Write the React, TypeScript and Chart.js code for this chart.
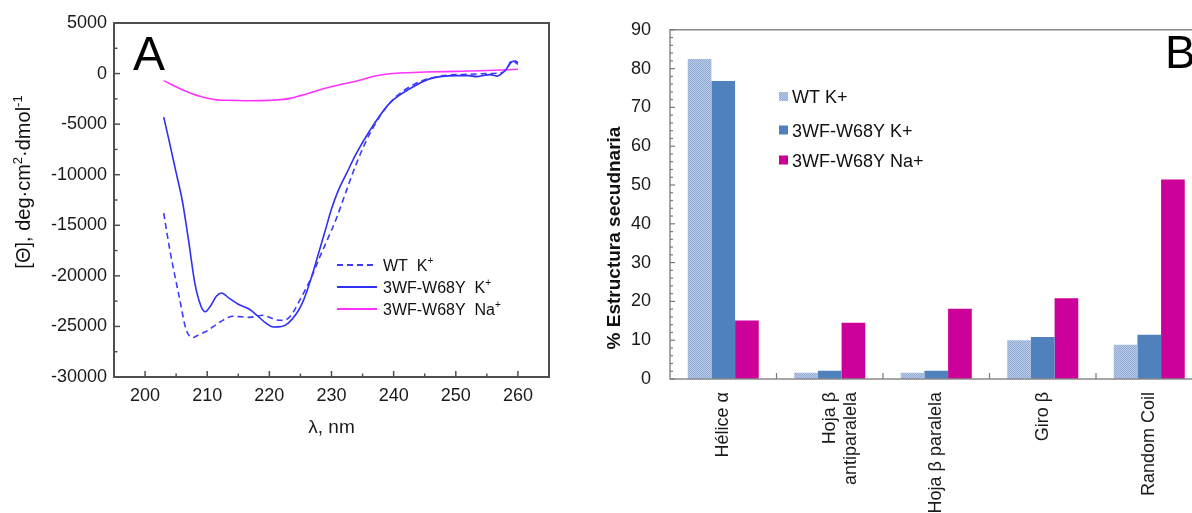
import React, { useEffect, useRef } from "react";
import { Chart, registerables } from "chart.js";

Chart.register(...registerables);

const FONT = '"Liberation Sans", Arial, Helvetica, sans-serif';

// ---------------- Panel A data (CD spectra) ----------------
const wtLambda = [203, 204, 204.7, 205.5, 206.6, 207.7, 208.7, 209.8, 211, 212.5, 214.1, 215.5, 216.8, 219, 220, 221.1, 222.2, 223.3, 224.9, 226.8, 228, 229.5, 230.8, 232.5, 234, 236.2, 239.4, 243.2, 248, 252.3, 255, 257, 258, 259, 259.6, 260];
const wtTheta = [-13800, -17500, -19700, -22100, -25300, -26100, -25800, -25500, -25000, -24400, -24000, -24050, -24100, -23900, -24100, -24350, -24400, -24050, -22400, -20100, -18300, -16200, -14300, -11400, -8900, -5900, -2900, -1100, -200, -70, 0, 50, 300, 1250, 1100, 900];

const mutKLambda = [203, 204, 205, 206, 207, 208, 209, 209.7, 210.5, 211.5, 212.3, 213.5, 215, 216.8, 218, 219.5, 220.6, 222, 223, 224.4, 225.3, 226, 227, 228, 229, 230, 231, 232.4, 234, 236.2, 239.4, 242.6, 245.9, 250.2, 252, 253.4, 255.5, 256.6, 258, 259, 259.6, 260];
const mutKTheta = [-4300, -7000, -9800, -12600, -16500, -20700, -23000, -23550, -23000, -22000, -21700, -22200, -22800, -23300, -23900, -24700, -25050, -25000, -24700, -23700, -22700, -21600, -19700, -17600, -15500, -13400, -11700, -9900, -7900, -5600, -2900, -1500, -500, -200, -200, -300, -100, -250, 350, 1150, 1250, 1050];

const mutNaLambda = [203, 206, 208.8, 211.5, 214, 216.8, 220, 222, 223.5, 225, 227, 229, 231, 233, 235, 237, 239, 241, 245, 250, 255, 260];
const mutNaTheta = [-700, -1600, -2250, -2600, -2650, -2680, -2650, -2580, -2430, -2180, -1820, -1460, -1150, -880, -580, -240, -40, 60, 150, 220, 300, 420];

const seriesNamesA = ["WT  K", "3WF-W68Y  K", "3WF-W68Y  Na"];
const aXTicks = [200, 210, 220, 230, 240, 250, 260];
const aYTicks = [5000, 0, -5000, -10000, -15000, -20000, -25000, -30000];

// ---------------- Panel B data (secondary structure) ----------------
const bCategories: (string | string[])[] = ["Hélice α", ["Hoja β", "antiparalela"], "Hoja β paralela", "Giro β", "Random Coil"];
const wtKValues = [82.5, 1.6, 1.6, 10.0, 8.8];
const mutKValues = [76.8, 2.1, 2.1, 10.8, 11.4];
const mutNaValues = [15.1, 14.5, 18.1, 20.8, 51.4];
const seriesNamesB = ["WT K+", "3WF-W68Y K+", "3WF-W68Y Na+"];
const bYTicks = [0, 10, 20, 30, 40, 50, 60, 70, 80, 90];

// ---------------- helpers ----------------
type Part = { t: string; sup?: boolean };

function drawParts(ctx: CanvasRenderingContext2D, parts: Part[], x: number, y: number, size: number, align: "left" | "center", weight = "normal", color = "#111") {
  const supSize = Math.round(size * 0.65);
  const widths = parts.map((p) => {
    ctx.font = `${weight} ${p.sup ? supSize : size}px ${FONT}`;
    return ctx.measureText(p.t).width;
  });
  const total = widths.reduce((a, b) => a + b, 0);
  let cx = align === "center" ? x - total / 2 : x;
  ctx.textAlign = "left";
  ctx.textBaseline = "alphabetic";
  ctx.fillStyle = color;
  parts.forEach((p, i) => {
    ctx.font = `${weight} ${p.sup ? supSize : size}px ${FONT}`;
    ctx.fillText(p.t, cx, p.sup ? y - size * 0.42 : y);
    cx += widths[i];
  });
}

function line(ctx: CanvasRenderingContext2D, x1: number, y1: number, x2: number, y2: number) {
  ctx.beginPath();
  ctx.moveTo(x1, y1);
  ctx.lineTo(x2, y2);
  ctx.stroke();
}

function midpoints(arr: number[]) {
  const out: number[] = [];
  for (let i = 0; i < arr.length - 1; i++) out.push((arr[i] + arr[i + 1]) / 2);
  return out;
}

function makeDotPattern(): CanvasPattern | string {
  const c = document.createElement("canvas");
  c.width = 2;
  c.height = 2;
  const g = c.getContext("2d");
  if (!g) return "#a6bee0";
  g.fillStyle = "#b8cce9";
  g.fillRect(0, 0, 2, 2);
  g.fillStyle = "#93acd6";
  g.fillRect(0, 0, 1, 1);
  g.fillRect(1, 1, 1, 1);
  const p = g.createPattern(c, "repeat");
  return p || "#a6bee0";
}

const toXY = (xs: number[], ys: number[]) => xs.map((x, i) => ({ x, y: ys[i] }));

// ---------------- Panel A ----------------
const A_W = 570;
const A_H = 513;

const aDecor = {
  id: "aDecor",
  afterDraw(chart: any) {
    const { ctx, chartArea: ca, scales } = chart;
    const x = scales.x;
    const y = scales.y;
    ctx.save();
    // frame
    ctx.strokeStyle = "#505050";
    ctx.lineWidth = 2;
    ctx.setLineDash([]);
    ctx.strokeRect(ca.left, ca.top, ca.right - ca.left, ca.bottom - ca.top);
    // inward ticks
    ctx.lineWidth = 1.5;
    aXTicks.forEach((v) => line(ctx, x.getPixelForValue(v), ca.bottom, x.getPixelForValue(v), ca.bottom - 6));
    midpoints(aXTicks).forEach((v) => line(ctx, x.getPixelForValue(v), ca.bottom, x.getPixelForValue(v), ca.bottom - 3.5));
    aYTicks.forEach((v) => line(ctx, ca.left, y.getPixelForValue(v), ca.left + 6, y.getPixelForValue(v)));
    midpoints(aYTicks).forEach((v) => line(ctx, ca.left, y.getPixelForValue(v), ca.left + 3.5, y.getPixelForValue(v)));

    // panel letter
    ctx.fillStyle = "#000";
    ctx.font = `48px ${FONT}`;
    ctx.textAlign = "left";
    ctx.textBaseline = "alphabetic";
    ctx.fillText("A", 133, 70);

    // y title
    ctx.save();
    ctx.translate(23, 182);
    ctx.rotate(-Math.PI / 2);
    drawParts(ctx, [{ t: "[Θ], deg·cm" }, { t: "2", sup: true }, { t: "·dmol" }, { t: "-1", sup: true }], 0, 7, 20, "center");
    ctx.restore();

    // legend
    const ds = chart.data.datasets;
    const rows = [265, 287, 309];
    ds.forEach((d: any, i: number) => {
      ctx.strokeStyle = d.borderColor;
      ctx.lineWidth = 1.8;
      ctx.setLineDash(d.borderDash || []);
      line(ctx, 337, rows[i], 377, rows[i]);
      ctx.setLineDash([]);
      drawParts(ctx, [{ t: seriesNamesA[i] }, { t: "+", sup: true }], 383, rows[i] + 6, 16, "left");
    });
    ctx.restore();
  },
};

function PanelA() {
  const ref = useRef<HTMLCanvasElement>(null);
  useEffect(() => {
    if (!ref.current) return;
    const tickFont = { family: FONT, size: 18 };
    const chart = new Chart(ref.current, {
      type: "line",
      data: {
        datasets: [
          { label: "WT K+", data: toXY(wtLambda, wtTheta), borderColor: "#3b3bff", borderWidth: 1.6, borderDash: [6, 4], pointRadius: 0, cubicInterpolationMode: "monotone", fill: false },
          { label: "3WF-W68Y K+", data: toXY(mutKLambda, mutKTheta), borderColor: "#3030f5", borderWidth: 1.6, pointRadius: 0, cubicInterpolationMode: "monotone", fill: false },
          { label: "3WF-W68Y Na+", data: toXY(mutNaLambda, mutNaTheta), borderColor: "#ff33ff", borderWidth: 1.6, pointRadius: 0, cubicInterpolationMode: "monotone", fill: false },
        ],
      },
      options: {
        animation: false,
        responsive: false,
        maintainAspectRatio: false,
        layout: { padding: { left: 0, top: 23, right: A_W - 549, bottom: 0 } },
        plugins: { legend: { display: false }, tooltip: { enabled: false } },
        scales: {
          x: {
            type: "linear",
            min: 195,
            max: 265,
            afterBuildTicks: (s: any) => {
              s.ticks = aXTicks.map((v) => ({ value: v }));
            },
            afterFit: (s: any) => {
              s.height = A_H - 377;
            },
            grid: { display: false, drawTicks: false },
            border: { display: false },
            ticks: { padding: 8, font: tickFont, color: "#1a1a1a", maxRotation: 0, callback: (v: any) => String(v) },
            title: { display: true, text: "λ, nm", font: { family: FONT, size: 19 }, color: "#1a1a1a", padding: { top: 0, bottom: 74 } },
          },
          y: {
            type: "linear",
            min: -30000,
            max: 5000,
            afterBuildTicks: (s: any) => {
              s.ticks = aYTicks.map((v) => ({ value: v }));
            },
            afterFit: (s: any) => {
              s.width = 114;
            },
            grid: { display: false, drawTicks: false },
            border: { display: false },
            ticks: { padding: 7, font: tickFont, color: "#1a1a1a", callback: (v: any) => String(v) },
          },
        },
      },
      plugins: [aDecor],
    } as any);
    return () => chart.destroy();
  }, []);
  return <canvas ref={ref} width={A_W} height={A_H} style={{ position: "absolute", left: 0, top: 0, width: A_W, height: A_H }} />;
}

// ---------------- Panel B ----------------
const B_LEFT = 560;
const B_W = 680;
const B_H = 513;

const bDecor = {
  id: "bDecor",
  afterDraw(chart: any) {
    const { ctx, chartArea: ca, scales } = chart;
    const x = scales.x;
    const y = scales.y;
    ctx.save();
    ctx.strokeStyle = "#8a8a8a";
    ctx.lineWidth = 1.5;
    ctx.strokeRect(ca.left, ca.top, ca.right - ca.left, ca.bottom - ca.top);
    // inward ticks
    ctx.strokeStyle = "#7a7a7a";
    ctx.lineWidth = 1.2;
    bYTicks.forEach((v) => line(ctx, ca.left, y.getPixelForValue(v), ca.left + 5, y.getPixelForValue(v)));
    const minor: number[] = [];
    midpoints(bYTicks).forEach((m) => {
      minor.push(m - 3, m - 1, m + 1, m + 3);
    });
    minor.forEach((v) => line(ctx, ca.left, y.getPixelForValue(v), ca.left + 3, y.getPixelForValue(v)));
    const half = (x.getPixelForValue(1) - x.getPixelForValue(0)) / 2;
    bCategories.forEach((_, i) => {
      if (i === 0) return;
      const px = x.getPixelForValue(i) - half;
      line(ctx, px, ca.bottom, px, ca.bottom - 6);
    });

    // panel letter
    ctx.fillStyle = "#000";
    ctx.font = `46px ${FONT}`;
    ctx.textAlign = "left";
    ctx.textBaseline = "alphabetic";
    ctx.fillText("B", 1165 - B_LEFT, 68);

    // y title
    ctx.save();
    ctx.translate(613 - B_LEFT, 238);
    ctx.rotate(-Math.PI / 2);
    drawParts(ctx, [{ t: "% Estructura secudnaria" }], 0, 7, 19, "center", "bold");
    ctx.restore();

    // legend
    const rows = [96.5, 130, 160];
    chart.data.datasets.forEach((d: any, i: number) => {
      ctx.fillStyle = d.backgroundColor;
      ctx.fillRect(779 - B_LEFT, rows[i] - 4.5, 9, 9);
      drawParts(ctx, [{ t: seriesNamesB[i] }], 792 - B_LEFT, rows[i] + 6.5, 18, "left");
    });
    ctx.restore();
  },
};

function PanelB() {
  const ref = useRef<HTMLCanvasElement>(null);
  useEffect(() => {
    if (!ref.current) return;
    const chart = new Chart(ref.current, {
      type: "bar",
      data: {
        labels: bCategories,
        datasets: [
          { label: seriesNamesB[0], data: wtKValues, backgroundColor: makeDotPattern(), borderWidth: 0 },
          { label: seriesNamesB[1], data: mutKValues, backgroundColor: "#4f81bd", borderWidth: 0 },
          { label: seriesNamesB[2], data: mutNaValues, backgroundColor: "#cc0099", borderWidth: 0 },
        ],
      },
      options: {
        animation: false,
        responsive: false,
        maintainAspectRatio: false,
        layout: { padding: { left: 0, top: 23, right: B_W - (1202.5 - B_LEFT), bottom: 0 } },
        plugins: { legend: { display: false }, tooltip: { enabled: false } },
        datasets: { bar: { categoryPercentage: 0.667, barPercentage: 1.0 } },
        scales: {
          x: {
            type: "category",
            offset: true,
            afterFit: (s: any) => {
              s.height = B_H - 379;
            },
            grid: { display: false, drawTicks: false },
            border: { display: false },
            ticks: { autoSkip: false, maxRotation: 90, minRotation: 90, padding: 13, font: { family: FONT, size: 18 }, color: "#1a1a1a" },
          },
          y: {
            type: "linear",
            min: 0,
            max: 90,
            afterBuildTicks: (s: any) => {
              s.ticks = bYTicks.map((v) => ({ value: v }));
            },
            afterFit: (s: any) => {
              s.width = 670 - B_LEFT;
            },
            grid: { display: false, drawTicks: false },
            border: { display: false },
            ticks: { padding: 19, font: { family: FONT, size: 18 }, color: "#1a1a1a" },
          },
        },
      },
      plugins: [bDecor],
    } as any);
    return () => chart.destroy();
  }, []);
  return <canvas ref={ref} width={B_W} height={B_H} style={{ position: "absolute", left: B_LEFT, top: 0, width: B_W, height: B_H }} />;
}

export default function App() {
  return (
    <div style={{ position: "fixed", left: 0, top: 0, width: 1192, height: 513, overflow: "hidden", background: "#fff" }}>
      <PanelA />
      <PanelB />
    </div>
  );
}
